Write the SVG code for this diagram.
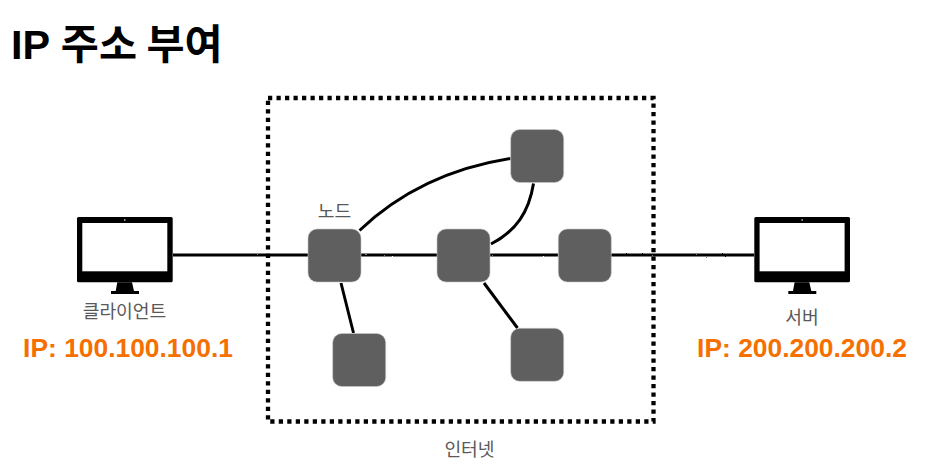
<svg xmlns="http://www.w3.org/2000/svg" width="942" height="471" viewBox="0 0 942 471">
<style>
text{font-family:"Liberation Sans","Noto Sans CJK KR",sans-serif}
.cjk{font-family:"Noto Sans CJK KR","Liberation Sans",sans-serif}
.title{font-size:41.4px;font-weight:700;fill:#000}
.lbl{font-size:18.2px;fill:#595959;text-anchor:middle}
.ip{font-size:26.4px;font-weight:700;fill:#f57000;text-anchor:middle}
.node{fill:#5f5f5f;stroke:#c8c8c8;stroke-width:.6}
.conn{fill:none;stroke:#000;stroke-width:3;stroke-linecap:butt}
.rough{filter:url(#rough)}
.net{fill:none;stroke:#000;stroke-width:4.3;stroke-dasharray:4.25 4.25}
</style>
<defs>
<filter id="rough" x="150" y="240" width="630" height="30" filterUnits="userSpaceOnUse">
<feTurbulence type="fractalNoise" baseFrequency="0.9" numOctaves="2" seed="3"/>
<feDisplacementMap in="SourceGraphic" scale="1.6" xChannelSelector="R" yChannelSelector="G"/>
</filter>
<g id="monitor">
<rect x="0" y="0" width="95.7" height="65.3" rx="1.5" fill="#000"/>
<rect x="5.3" y="6" width="85" height="48.3" fill="#fff"/>
<circle cx="47.8" cy="3" r=".8" fill="#fff"/>
<path d="M40.3 65.3H55L57 74H62V77H34V74H38.7Z" fill="#000"/>
</g>
</defs>
<text class="title" x="11" y="59">IP <tspan class="cjk">주소 부여</tspan></text>
<g id="connectors">
<path class="conn rough" d="M173 255H308M361 255H437M490 255H558M611 255H754"/>
<path class="conn" d="M359.500 230.500C400 192 450 168 510.500 158.500"/>
<path class="conn" d="M533.500 183.500C529 212 516 231 491 244"/>
<path class="conn" d="M341 283L353.500 333"/>
<path class="conn" d="M484 283L517.500 328"/>
</g>
<g id="internet">
<rect class="net" x="268" y="98" width="385.500" height="323.500"/>
<text class="lbl cjk" x="469.500" y="456">인터넷</text>
</g>
<g id="client">
<use href="#monitor" x="77" y="217"/>
<text class="lbl cjk" x="124.500" y="318">클라이언트</text>
<text class="ip" x="128" y="357">IP: 100.100.100.1</text>
</g>
<g id="server">
<use href="#monitor" x="754.300" y="217"/>
<text class="lbl cjk" x="802" y="324">서버</text>
<text class="ip" x="802" y="357">IP: 200.200.200.2</text>
</g>
<g id="node1"><rect class="node" x="308" y="229" width="53" height="53" rx="9"/><text class="lbl cjk" x="334.500" y="218">노드</text></g>
<g id="node2"><rect class="node" x="437" y="229" width="53" height="53" rx="9"/></g>
<g id="node3"><rect class="node" x="558.300" y="229" width="53" height="53" rx="9"/></g>
<g id="node4"><rect class="node" x="510.700" y="129.500" width="53" height="53" rx="9"/></g>
<g id="node5"><rect class="node" x="332.700" y="333.500" width="53" height="53" rx="9"/></g>
<g id="node6"><rect class="node" x="510.700" y="328.300" width="53" height="53" rx="9"/></g>
</svg>
